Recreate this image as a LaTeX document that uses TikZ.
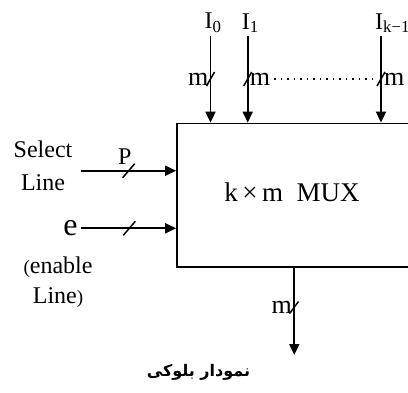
\documentclass[tikz,border=0pt]{standalone}
\usepackage{fontspec}
\setmainfont{Liberation Serif}
\newfontfamily\persianfont[Script=Arabic]{DejaVu Sans}
\TeXXeTstate=1
\usetikzlibrary{arrows.meta, positioning, calc}

\begin{document}
\begin{tikzpicture}[
  x=1pt, y=-1pt,
  node distance=4pt,
  every node/.style={font=\fontsize{24}{26}\selectfont, inner sep=0pt, align=center},
  bus/.style      ={-{Triangle[length=11pt, width=10pt]}, line width=1.8pt},
  slashmark/.style={line width=1.5pt},
  blockbox/.style ={rectangle, draw, line width=1.8pt, minimum width=233pt, minimum height=143.5pt},
  lbl/.style      ={font=\fontsize{26}{28}\selectfont},
]
\useasboundingbox (0,0) rectangle (408,392);
\clip (0,0) rectangle (408,392);

%% The MUX block (its right side runs off the picture)
\node[blockbox] (mux) at (293.5,195.25) {};
\node[font=\fontsize{27}{30}\selectfont] (muxtext) at (292,192) {k\,×\,m\ \ MUX};

%% Data inputs I_0, I_1, ..., I_{k-1}
\coordinate (in0) at (210.5,36);
\coordinate (in1) at (247.7,36);
\coordinate (ink) at (381,36);
\node[above right=3pt and -6pt of in0] (I0) {I\textsubscript{0}};
\node[above right=3pt and -6pt of in1] (I1) {I\textsubscript{1}};
\node[above right=3pt and -6pt of ink] (Ik) {I\textsubscript{k−1}};

\foreach \i in {in0,in1,ink}{
  \draw[bus] (\i) -- (\i |- mux.north);
  \coordinate (\i s) at ($(\i)+(0,43)$);
  \draw[slashmark] ([shift={(-4,7)}]\i s) -- ([shift={(4,-7)}]\i s);
}
\node[lbl, left=2pt of in0s]  (m0) {m};
\node[lbl, right=2pt of in1s] (m1) {m};
\node[lbl, right=3pt of inks] (mk) {m};
\draw[line width=1.2pt, dash pattern=on 1.3pt off 5.2pt] ([xshift=4pt]m1.east |- in1s) -- ([xshift=-7pt]inks);

%% Select line
\coordinate (sel) at (80.7,170.7);
\draw[bus] (sel) -- (sel -| mux.west);
\coordinate (sels) at (128.7,170.7);
\draw[slashmark] ([shift={(-6,7)}]sels) -- ([shift={(6,-7)}]sels);
\node[above left=6pt and -3pt of sels] (P) {P};
\node[font=\fontsize{24}{33}\selectfont] (seltext) at (43,166) {Select\\Line};

%% Enable line
\coordinate (en) at (80.7,228.3);
\draw[bus] (en) -- (en -| mux.west);
\coordinate (ens) at (129.3,228.3);
\draw[slashmark] ([shift={(-6,7)}]ens) -- ([shift={(6,-7)}]ens);
\node[left=3pt of en, font=\fontsize{32}{32}\selectfont] (e) {e};
\node[font=\fontsize{24}{30}\selectfont] (entext) at (58,282) {{\fontsize{19}{19}\selectfont(}enable\\Line{\fontsize{19}{19}\selectfont)}};

%% Output
\coordinate (out) at (294.3,355);
\draw[bus] (out |- mux.south) -- (out);
\coordinate (outs) at (294,307.5);
\draw[slashmark] ([shift={(-4.5,6)}]outs) -- ([shift={(4.5,-6)}]outs);
\node[lbl, left=2pt of outs] (mo) {m};

%% Caption
\node[font=\persianfont\bfseries\fontsize{16}{18}\selectfont] (caption) at (198.5,372)
  {\beginR نمودار بلوکی\endR};

\end{tikzpicture}
\end{document}
